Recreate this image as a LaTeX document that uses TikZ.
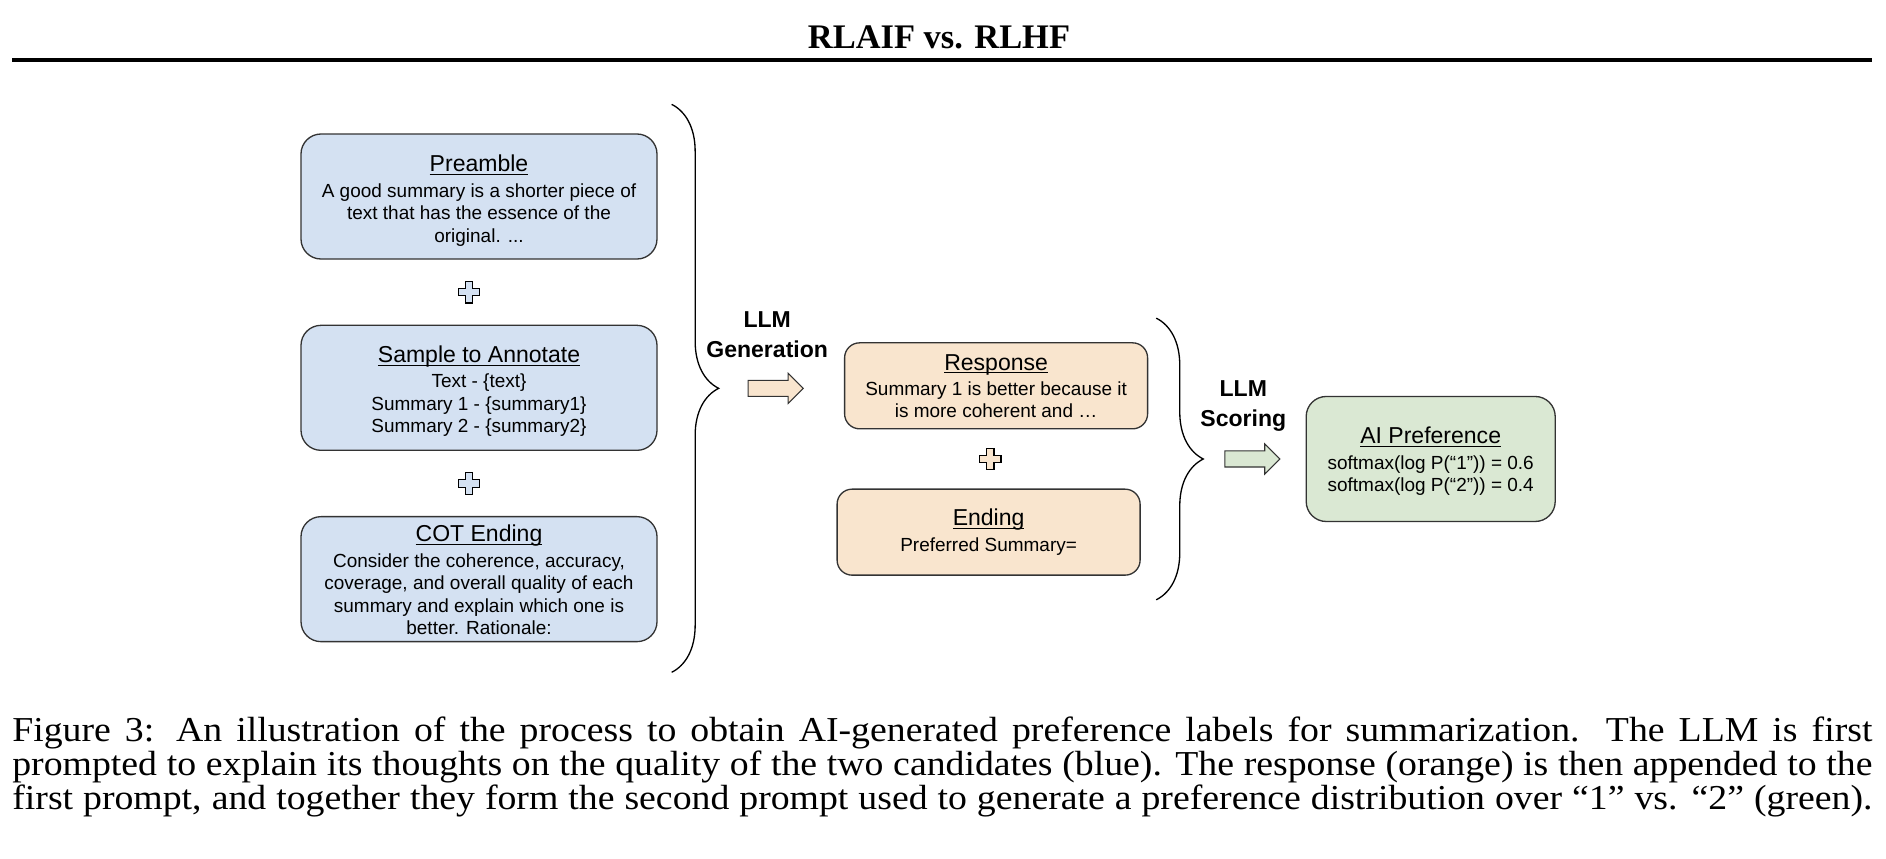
\documentclass[tikz,border=0pt]{standalone}
\usepackage{fontspec}
\setmainfont{Liberation Serif}
\setsansfont{Liberation Sans}
\newfontfamily\capfont{Liberation Serif}[FakeStretch=1.08, Ligatures=TeX]
\usetikzlibrary{positioning, calc, shapes.arrows, decorations.pathreplacing}
\definecolor{promptblue}{HTML}{D4E1F2}
\definecolor{respbg}{HTML}{F9E5CE}
\definecolor{prefgreen}{HTML}{DAE8D3}
\definecolor{edgegray}{HTML}{333333}
\newcommand{\boxhead}[2][0pt]{{\fontsize{13.1}{13.1}\selectfont\underline{\smash{#2}}\vphantom{g}\rule{0pt}{\dimexpr 9.4pt+#1\relax}}\\[1.7pt]}
\tikzset{
  pbox/.style      = {draw=edgegray, line width=0.75pt, rounded corners=0.4cm, minimum width=7.12cm, minimum height=2.5cm, align=center, fill=promptblue, font=\sffamily\fontsize{10.8}{12.8}\selectfont, inner sep=0pt},
  rbox/.style      = {pbox, fill=respbg, rounded corners=0.3cm, minimum width=6.06cm, minimum height=1.72cm},
  gbox/.style      = {pbox, fill=prefgreen, minimum width=4.98cm},
  blockarrow/.style = {single arrow, draw=edgegray, line width=0.6pt, minimum height=1.1cm, text height=0.15cm, text depth=0.15cm, text width=0pt, single arrow head extend=0.14cm, inner sep=0pt},
  steplabel/.style = {align=center, inner sep=0pt, font=\sffamily\bfseries\fontsize{13.1}{17.1}\selectfont},
  bigbrace/.style  = {decorate, decoration={brace, amplitude=0.94cm}, line width=0.75pt},
  plussign/.pic    = {\path[draw=black, line width=0.7pt, pic actions]
    (-0.073,0.215) -- (0.073,0.215) -- (0.073,0.073) -- (0.215,0.073) -- (0.215,-0.073) -- (0.073,-0.073)
    -- (0.073,-0.215) -- (-0.073,-0.215) -- (-0.073,-0.073) -- (-0.215,-0.073) -- (-0.215,0.073) -- (-0.073,0.073) -- cycle;}
}

\begin{document}
\begin{tikzpicture}
  \useasboundingbox (0,0) rectangle (37.72,-17.16);

  % heading
  \node[anchor=base, font=\bfseries\fontsize{19.6}{20}\selectfont] (title) at (18.78,-0.96) {RLAIF vs. RLHF};
  \draw[line width=0.08cm] (0.24,-1.2) -- (37.44,-1.2);

  % first prompt (blue)
  \node[pbox] (pre) at (9.58,-3.93) {\boxhead[5pt]{Preamble}A good summary is a shorter piece of\\text that has the essence of the\\original. ...};
  \node[pbox, below=1.3cm of pre] (smp) {\boxhead[4pt]{Sample to Annotate}Text - \{text\}\\Summary 1 - \{summary1\}\\Summary 2 - \{summary2\}};
  \node[pbox, below=1.3cm of smp] (cot) {\boxhead[1pt]{COT Ending}Consider the coherence, accuracy,\\coverage, and overall quality of each\\summary and explain which one is\\better. Rationale:};
  \pic[fill=promptblue] at ($(pre.south)!0.5!(smp.north)+(-0.2,0)$) {plussign};
  \pic[fill=promptblue] at ($(smp.south)!0.5!(cot.north)+(-0.2,0)$) {plussign};

  \coordinate (b1top) at ($(pre.north east)+(0.28,0.58)$);
  \coordinate (b1bot) at ($(cot.south east)+(0.28,-0.6)$);
  \draw[bigbrace] (b1top) -- (b1bot);
  \coordinate (gentip) at ($(b1top)!0.5!(b1bot)+(0.94,0)$);

  % generation step
  \node[blockarrow, fill=respbg, right=0.58cm of gentip] (genarrow) {};
  \node[steplabel] (gentext) at ($(genarrow)+(-0.09,1.07)$) {LLM\\Generation};

  % second prompt (orange)
  \node[rbox, right=0.8cm of genarrow, yshift=0.05cm] (resp) {\boxhead{Response}Summary 1 is better because it\\is more coherent and …};
  \node[rbox, below=1.18cm of resp, xshift=-0.15cm] (end) {\boxhead{Ending}Preferred Summary=};
  \pic[fill=respbg] at ($(resp.south)!0.5!(end.north)+(-0.04,0)$) {plussign};

  \coordinate (b2top) at ($(resp.north east)+(0.16,0.48)$);
  \coordinate (b2bot) at ($(b2top |- end.south)+(0,-0.48)$);
  \draw[bigbrace] (b2top) -- (b2bot);
  \coordinate (scoretip) at ($(b2top)!0.5!(b2bot)+(0.94,0)$);

  % scoring step
  \node[blockarrow, fill=prefgreen, right=0.42cm of scoretip] (scorearrow) {};
  \node[steplabel] (scoretext) at ($(scorearrow)+(-0.1,1.05)$) {LLM\\Scoring};
  \node[gbox, right=0.5cm of scorearrow] (pref) {\boxhead[3pt]{AI Preference}softmax(log P(“1”)) = 0.6\\softmax(log P(“2”)) = 0.4};

  % caption
  \node[anchor=north west, inner sep=0pt] (caption) at (0.24,-14.33)
    {\parbox[t]{37.2cm}{\capfont\fontsize{19.9}{18.2}\selectfont\parfillskip=0pt\tolerance=9999
     Figure 3: An illustration of the process to obtain AI-generated preference labels for summarization. The LLM is first\linebreak
     prompted to explain its thoughts on the quality of the two candidates (blue). The response (orange) is then appended to the\linebreak
     first prompt, and together they form the second prompt used to generate a preference distribution over “1” vs. “2” (green).}};
\end{tikzpicture}
\end{document}
